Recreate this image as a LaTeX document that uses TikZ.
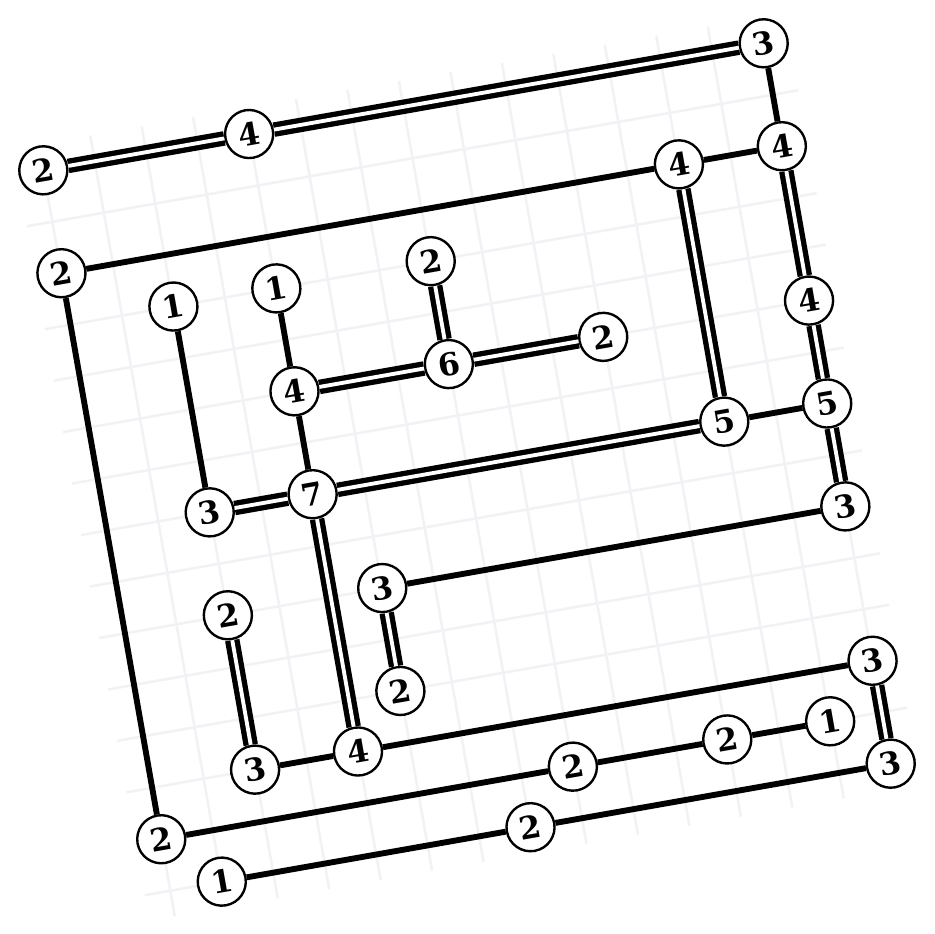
\documentclass[tikz,border=0pt]{standalone}
\usepackage{fontspec}
\setmainfont{DejaVu Serif}
\definecolor{gridgray}{RGB}{242,242,246}
\tikzset{
  isle/.style={circle, draw, line width=1.3pt, fill=white, minimum size=0.92cm,
    inner sep=0pt, rotate=10, font=\bfseries\fontsize{17}{17}\selectfont},
  one/.style={line width=3.2pt},
  two/.style={double=white, line width=2.9pt, double distance=2.1pt}
}
\begin{document}
\begin{tikzpicture}

\useasboundingbox (-8.938,-8.938) rectangle (8.938,8.938);

\begin{scope}[rotate=10, shift={(-7,7)}]
% board
\draw[gridgray, line width=1.4pt, step=1] (-0.5,-14.5) grid (14.5,0.5);

% islands
\node[isle] (n0-0) at (0,0) {2};
\node[isle] (n4-0) at (4,0) {4};
\node[isle] (n14-0) at (14,0) {3};
\node[isle] (n0-2) at (0,-2) {2};
\node[isle] (n12-2) at (12,-2) {4};
\node[isle] (n14-2) at (14,-2) {4};
\node[isle] (n2-3) at (2,-3) {1};
\node[isle] (n4-3) at (4,-3) {1};
\node[isle] (n7-3) at (7,-3) {2};
\node[isle] (n4-5) at (4,-5) {4};
\node[isle] (n7-5) at (7,-5) {6};
\node[isle] (n10-5) at (10,-5) {2};
\node[isle] (n14-5) at (14,-5) {4};
\node[isle] (n2-7) at (2,-7) {3};
\node[isle] (n4-7) at (4,-7) {7};
\node[isle] (n12-7) at (12,-7) {5};
\node[isle] (n14-7) at (14,-7) {5};
\node[isle] (n2-9) at (2,-9) {2};
\node[isle] (n5-9) at (5,-9) {3};
\node[isle] (n14-9) at (14,-9) {3};
\node[isle] (n5-11) at (5,-11) {2};
\node[isle] (n2-12) at (2,-12) {3};
\node[isle] (n4-12) at (4,-12) {4};
\node[isle] (n14-12) at (14,-12) {3};
\node[isle] (n0-13) at (0,-13) {2};
\node[isle] (n8-13) at (8,-13) {2};
\node[isle] (n11-13) at (11,-13) {2};
\node[isle] (n13-13) at (13,-13) {1};
\node[isle] (n1-14) at (1,-14) {1};
\node[isle] (n7-14) at (7,-14) {2};
\node[isle] (n14-14) at (14,-14) {3};

% single bridges
\draw[one] (n14-0) -- (n14-2);
\draw[one] (n14-2) -- (n12-2);
\draw[one] (n12-2) -- (n0-2);
\draw[one] (n12-7) -- (n14-7);
\draw[one] (n2-3) -- (n2-7);
\draw[one] (n4-3) -- (n4-5);
\draw[one] (n4-5) -- (n4-7);
\draw[one] (n5-9) -- (n14-9);
\draw[one] (n2-12) -- (n4-12);
\draw[one] (n4-12) -- (n14-12);
\draw[one] (n13-13) -- (n11-13);
\draw[one] (n11-13) -- (n8-13);
\draw[one] (n8-13) -- (n0-13);
\draw[one] (n0-13) -- (n0-2);
\draw[one] (n14-14) -- (n7-14);
\draw[one] (n7-14) -- (n1-14);

% double bridges
\draw[two] (n0-0) -- (n4-0);
\draw[two] (n4-0) -- (n14-0);
\draw[two] (n12-2) -- (n12-7);
\draw[two] (n14-2) -- (n14-5);
\draw[two] (n14-5) -- (n14-7);
\draw[two] (n14-7) -- (n14-9);
\draw[two] (n12-7) -- (n4-7);
\draw[two] (n4-7) -- (n2-7);
\draw[two] (n4-5) -- (n7-5);
\draw[two] (n7-5) -- (n7-3);
\draw[two] (n7-5) -- (n10-5);
\draw[two] (n4-7) -- (n4-12);
\draw[two] (n5-9) -- (n5-11);
\draw[two] (n2-9) -- (n2-12);
\draw[two] (n14-12) -- (n14-14);
\end{scope}

\end{tikzpicture}
\end{document}
